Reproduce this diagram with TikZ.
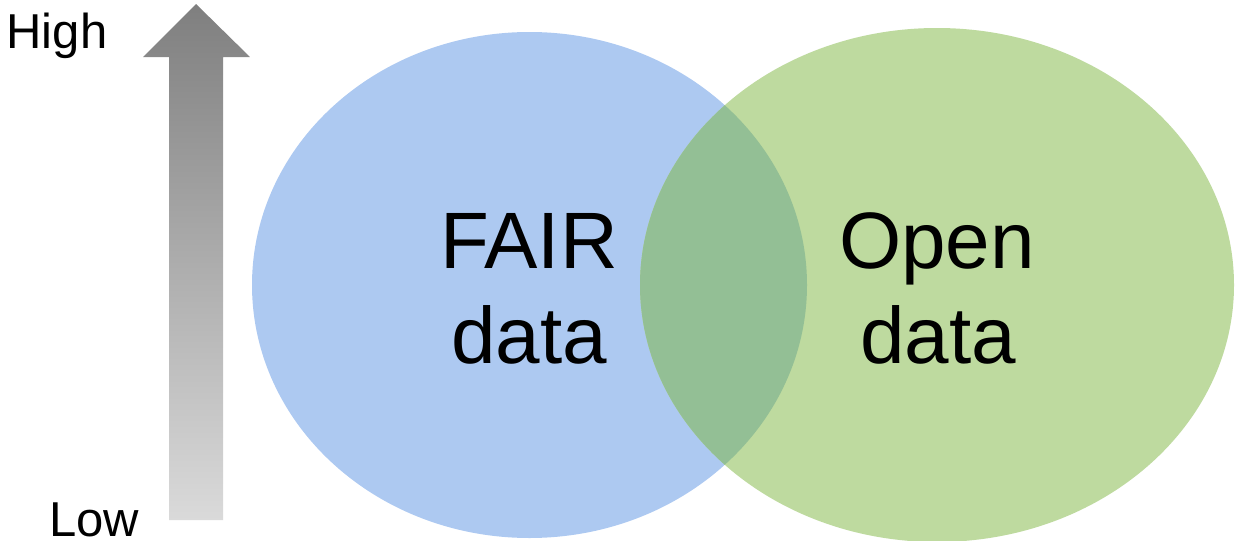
\documentclass[tikz,border=0pt]{standalone}
\usepackage{fontspec}
\setmainfont{Liberation Sans}
\definecolor{fairblue}{RGB}{173,201,241}
\definecolor{opengreen}{RGB}{190,218,159}
\definecolor{overlapgreen}{RGB}{147,191,149}
\begin{document}
\begin{tikzpicture}[x=1pt,y=-1pt,
  bigtext/.style={font=\fontsize{80}{95}\selectfont, anchor=base, inner sep=0pt},
  smalltext/.style={font=\fontsize{49}{58}\selectfont, anchor=base, inner sep=0pt, text depth=0pt}]
\useasboundingbox (0,0) rectangle (1235,541);
% arrow
\shade[top color={rgb,255:red,127;green,127;blue,127}, bottom color={rgb,255:red,218;green,218;blue,218}]
  (196,4) -- (250,57) -- (223,57) -- (223,520) -- (169,520) -- (169,57) -- (143,57) -- cycle;
% ellipses
\fill[fairblue] (529.5,285) ellipse [x radius=277.5, y radius=253];
\fill[opengreen] (937,285) ellipse [x radius=297, y radius=257];
\begin{scope}
  \clip (529.5,285) ellipse [x radius=277.5, y radius=253];
  \fill[overlapgreen] (937,285) ellipse [x radius=297, y radius=257];
\end{scope}
% texts
\node[smalltext] (high) at (57,48) {High};
\node[smalltext] (low) at (94,536) {Low};
\node[bigtext] (fair) at (529,268) {FAIR};
\node[bigtext] (fairdata) at (529,363) {data};
\node[bigtext] (open) at (937,268) {Open};
\node[bigtext] (opendata) at (938,363) {data};
\end{tikzpicture}
\end{document}
